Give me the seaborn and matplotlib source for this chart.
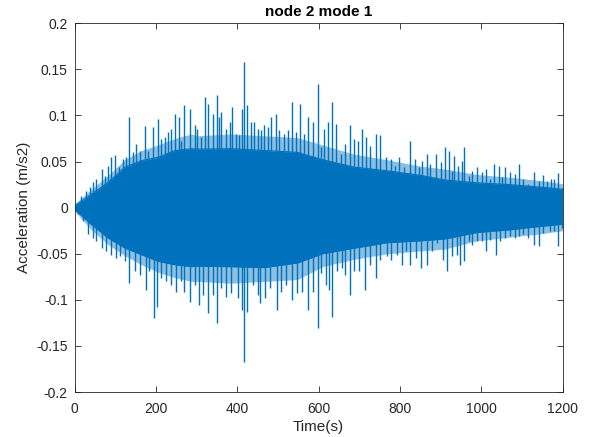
import numpy as np
import pandas as pd
import matplotlib
matplotlib.use("Agg")
import matplotlib.pyplot as plt
import seaborn as sns

# ---- data ----
# spike tips above zero (time s, acceleration m/s2)
up_t = [8, 16, 29, 37, 45, 53, 66, 74, 82, 90, 98, 108, 119, 127, 133, 143, 152, 160, 174, 180,
        193, 205, 213, 221, 230, 238, 246, 256, 262, 269, 283, 295, 302, 311, 320, 329, 339, 349,
        356, 361, 372, 382, 388, 397, 405, 411, 416, 424, 434, 442, 450, 458, 466, 475, 484, 495,
        503, 514, 524, 534, 544, 555, 565, 573, 587, 599, 607, 613, 623, 634, 644, 654, 666, 677,
        687, 697, 707, 716, 726, 740, 752, 765, 777, 787, 798, 810, 816, 826, 836, 847, 855, 866,
        875, 888, 900, 911, 920, 928, 934, 944, 952, 958, 969, 977, 989, 1002, 1012, 1022, 1032,
        1043, 1051, 1059, 1071, 1084, 1094, 1104, 1116, 1129, 1141, 1152, 1161, 1171, 1180, 1190,
        1198]
up_v = [0.0055, 0.0127, 0.0182, 0.0226, 0.0273, 0.0309, 0.0419, 0.0346, 0.0455, 0.0553, 0.0575,
        0.0437, 0.0528, 0.0546, 0.0983, 0.0601, 0.0692, 0.0619, 0.0888, 0.0619, 0.0873, 0.0964,
        0.0746, 0.0764, 0.0819, 0.0855, 0.1019, 0.0983, 0.0728, 0.1110, 0.1074, 0.0892, 0.0855,
        0.0764, 0.1201, 0.1128, 0.1019, 0.1219, 0.0983, 0.1037, 0.0855, 0.0928, 0.1092, 0.0801,
        0.0783, 0.1074, 0.1583, 0.1110, 0.0928, 0.0928, 0.0855, 0.0837, 0.0892, 0.0874, 0.0983,
        0.1019, 0.0837, 0.0801, 0.0837, 0.1146, 0.0819, 0.1128, 0.0801, 0.0983, 0.0928, 0.1346,
        0.0655, 0.0855, 0.0928, 0.1146, 0.0910, 0.0582, 0.0692, 0.0892, 0.0746, 0.0728, 0.0855,
        0.0764, 0.0673, 0.0801, 0.0783, 0.0546, 0.0528, 0.0455, 0.0553, 0.0437, 0.0346, 0.0728,
        0.0528, 0.0437, 0.0510, 0.0582, 0.0473, 0.0582, 0.0491, 0.0655, 0.0619, 0.0400, 0.0564,
        0.0455, 0.0509, 0.0655, 0.0346, 0.0400, 0.0437, 0.0382, 0.0419, 0.0309, 0.0473, 0.0455,
        0.0328, 0.0437, 0.0382, 0.0364, 0.0473, 0.0309, 0.0255, 0.0382, 0.0291, 0.0357, 0.0291,
        0.0309, 0.0309, 0.0371, 0.0218]
# spike tips below zero
lo_t = [8, 20, 33, 45, 53, 66, 78, 90, 102, 111, 123, 134, 148, 160, 176, 184, 194, 202, 213, 225,
        238, 250, 261, 269, 283, 295, 305, 315, 327, 339, 350, 361, 372, 384, 401, 411, 416, 425,
        438, 450, 457, 469, 481, 497, 507, 520, 534, 548, 559, 573, 585, 599, 607, 617, 625, 634,
        646, 658, 666, 677, 687, 699, 713, 726, 740, 752, 769, 777, 793, 806, 816, 826, 839, 851,
        866, 880, 892, 907, 917, 928, 940, 947, 958, 969, 977, 989, 1002, 1012, 1022, 1036, 1047,
        1059, 1071, 1084, 1094, 1104, 1116, 1129, 1141, 1153, 1169, 1178, 1190, 1198]
lo_v = [-0.0073, -0.0146, -0.0291, -0.0328, -0.0364, -0.0437, -0.0473, -0.0510, -0.0546, -0.0528,
        -0.0582, -0.0819, -0.0692, -0.0728, -0.0891, -0.0692, -0.1201, -0.1077, -0.0764, -0.0801,
        -0.0837, -0.0910, -0.0801, -0.0910, -0.1019, -0.0837, -0.1055, -0.0946, -0.1146, -0.0946,
        -0.1255, -0.0874, -0.0964, -0.0928, -0.0983, -0.1110, -0.1674, -0.1128, -0.0837, -0.0946,
        -0.1037, -0.0983, -0.0874, -0.1110, -0.0910, -0.0837, -0.1001, -0.0928, -0.0910, -0.1110,
        -0.0910, -0.1310, -0.0710, -0.0837, -0.0892, -0.1183, -0.0691, -0.0655, -0.0728, -0.0946,
        -0.0691, -0.0691, -0.0892, -0.0619, -0.0764, -0.0564, -0.0528, -0.0564, -0.0510, -0.0619,
        -0.0473, -0.0619, -0.0546, -0.0655, -0.0619, -0.0473, -0.0382, -0.0564, -0.0692, -0.0528,
        -0.0510, -0.0619, -0.0582, -0.0364, -0.0400, -0.0364, -0.0364, -0.0473, -0.0346, -0.0510,
        -0.0364, -0.0328, -0.0309, -0.0328, -0.0309, -0.0291, -0.0328, -0.0400, -0.0419, -0.0273,
        -0.0255, -0.0255, -0.0419, -0.0218]
# dense core of the signal (time, upper edge, lower edge)
core_t = [0, 41, 82, 123, 164, 205, 246, 287, 302, 384, 466, 548, 610, 687, 769, 851, 910, 989,
          1071, 1153, 1200]
core_hi = [0.002, 0.0146, 0.0273, 0.0437, 0.0510, 0.0546, 0.0619, 0.0640, 0.0635, 0.064, 0.062,
           0.060, 0.052, 0.044, 0.040, 0.035, 0.030, 0.027, 0.025, 0.022, 0.020]
core_lo = [-0.002, -0.0182, -0.0328, -0.0437, -0.0510, -0.0582, -0.0619, -0.0640, -0.0635, -0.064,
           -0.065, -0.060, -0.050, -0.044, -0.038, -0.036, -0.034, -0.027, -0.024, -0.020, -0.018]
# band of dense, thinner spikes just outside the core
fringe_hi = [0.004, 0.020, 0.035, 0.052, 0.062, 0.068, 0.075, 0.080, 0.078, 0.080, 0.078, 0.076,
             0.068, 0.058, 0.052, 0.045, 0.042, 0.036, 0.033, 0.029, 0.026]
fringe_lo = [-0.004, -0.024, -0.040, -0.052, -0.062, -0.070, -0.076, -0.080, -0.080, -0.082,
             -0.080, -0.078, -0.064, -0.056, -0.050, -0.047, -0.045, -0.036, -0.032, -0.028,
             -0.025]

x_ticks = [0, 200, 400, 600, 800, 1000, 1200]
y_ticks = [-0.2, -0.15, -0.1, -0.05, 0, 0.05, 0.1, 0.15, 0.2]
y_tick_labels = ["-0.2", "-0.15", "-0.1", "-0.05", "0", "0.05", "0.1", "0.15", "0.2"]

# ---- plot ----
sns.set_style("white")
plt.rcParams["font.family"] = ["Liberation Sans", "DejaVu Sans"]

blue = "#0072BD"
axc = "#262626"

edges = pd.DataFrame({
    "t": core_t + core_t,
    "a": core_hi + core_lo,
    "side": ["hi"] * len(core_t) + ["lo"] * len(core_t),
})

fig = plt.figure(figsize=(5.9, 4.37), dpi=100)
ax = fig.add_axes([74.7 / 590, (437 - 392) / 437, 487.8 / 590, 368.7 / 437])

ax.fill_between(core_t, fringe_lo, fringe_hi, color=blue, alpha=0.45, linewidth=0)
ax.fill_between(core_t, core_lo, core_hi, color=blue, linewidth=0)
sns.lineplot(data=edges, x="t", y="a", units="side", estimator=None, ax=ax,
             color=blue, linewidth=0.8, legend=False)
ax.vlines(up_t, 0, up_v, color=blue, linewidth=1.0)
ax.vlines(lo_t, lo_v, 0, color=blue, linewidth=1.0)

ax.set_xlim(0, 1200)
ax.set_ylim(-0.2, 0.2)
ax.set_xticks(x_ticks)
ax.set_xticklabels([str(v) for v in x_ticks])
ax.set_yticks(y_ticks)
ax.set_yticklabels(y_tick_labels)

for s in ax.spines.values():
    s.set_visible(True)
    s.set_color(axc)
    s.set_linewidth(0.6)
ax.tick_params(direction="in", length=4, width=0.6, color=axc, labelsize=10,
               labelcolor=axc, top=True, right=True, bottom=True, left=True)
ax.tick_params(axis="x", pad=7)
ax.tick_params(axis="y", pad=5)

ax.set_xlabel("Time(s)", fontsize=11, color=axc, labelpad=3)
ax.set_ylabel("Acceleration (m/s2)", fontsize=11, color=axc, labelpad=4)
ax.set_title("node 2 mode 1", fontsize=11, fontweight="bold", color="black", pad=5)

fig.savefig("out.png", dpi=100)
